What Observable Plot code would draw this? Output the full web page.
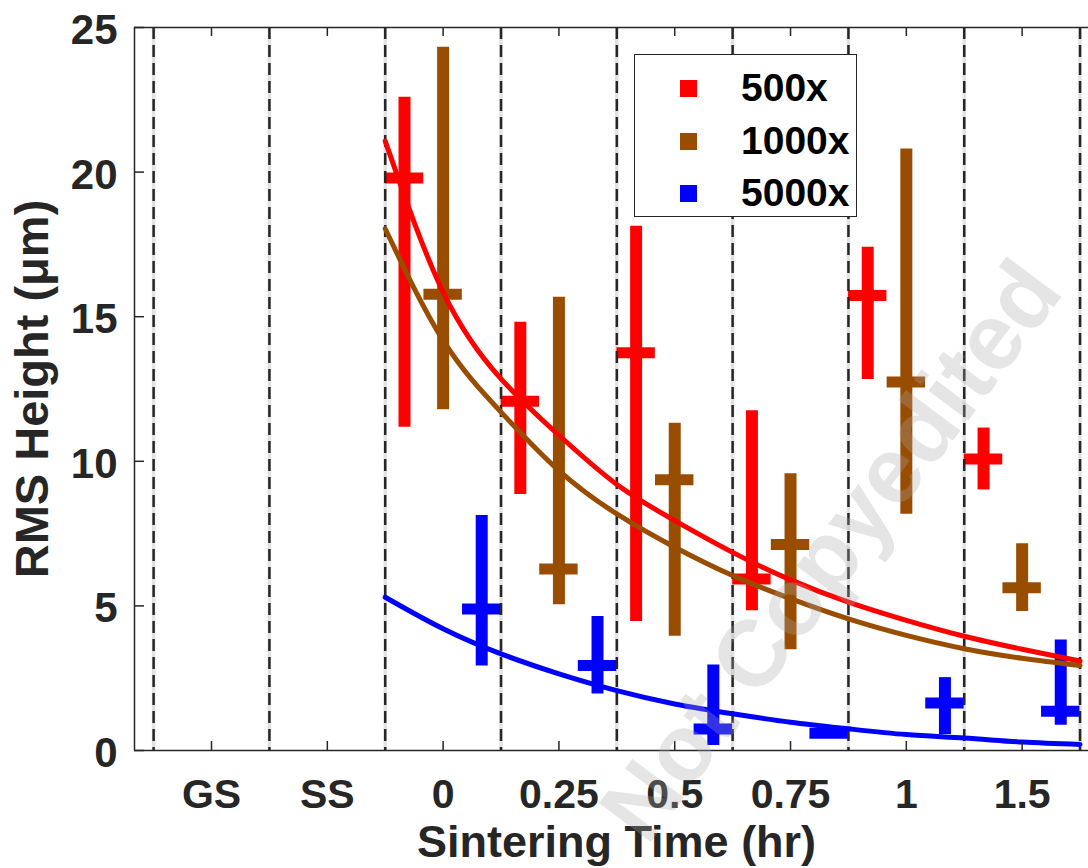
<!DOCTYPE html>
<html>
<head>
<meta charset="utf-8">
<script src="https://cdn.jsdelivr.net/npm/d3@7"></script>
<script src="https://cdn.jsdelivr.net/npm/@observablehq/plot@0.6"></script>
<style>
  html, body { margin: 0; padding: 0; background: white; }
  #wrap { position: relative; width: 1088px; height: 868px; overflow: hidden; font-family: "Liberation Sans", Arial, sans-serif; }
  #legend { position: absolute; left: 634px; top: 54px; width: 221px; height: 161px; border: 1.5px solid #262626; background: white; }
  .item { position: absolute; left: 0; height: 40px; width: 100%; }
  .sw { position: absolute; left: 45px; top: 12px; width: 17px; height: 17px; }
  .lab { position: absolute; left: 106px; top: 0; line-height: 40px; font-size: 39px; font-weight: bold; color: #000; }
</style>
</head>
<body>
<div id="wrap"></div>
<script>
// ---- data ----
const categories = ["GS", "SS", "0", "0.25", "0.5", "0.75", "1", "1.5"];
const timeLabels = ["0", "0.25", "0.5", "0.75", "1", "1.5"];
const seriesNames = ["500x", "1000x", "5000x"];
const seriesColors = ["#ff0000", "#994d00", "#0000ff"];

const mean500  = [19.8, 12.08, 13.75, 5.93, 15.73, 10.08];
const low500   = [11.18, 8.85, 4.46, 4.83, 12.83, 9.01];
const high500  = [22.59, 14.81, 18.13, 11.75, 17.4, 11.15];

const mean1000 = [15.78, 6.28, 9.36, 7.12, 12.74, 5.63];
const low1000  = [11.78, 5.04, 3.95, 3.48, 8.17, 4.81];
const high1000 = [24.32, 15.67, 11.32, 9.57, 20.8, 7.15];

const mean5000 = [4.89, 2.94, 0.74, 0.6, 1.64, 1.36];
const low5000  = [2.92, 1.95, 0.17, 0.56, 0.55, 0.87];
const high5000 = [8.13, 4.63, 2.96, 0.64, 2.52, 3.82];

// fitted curves, sampled along the category axis
const fitPositions = [2.5, 3, 3.5, 4, 4.5, 5, 5.5, 6, 6.5, 7, 7.5, 8, 8.5];
const fit500  = [21.07, 15.85, 12.85, 10.9, 9.2, 7.95, 6.85, 5.9, 5.13, 4.5, 3.95, 3.5, 3.09];
const fit1000 = [18.04, 14.18, 11.7, 9.68, 8.18, 7.03, 6.05, 5.25, 4.55, 3.98, 3.52, 3.19, 2.94];
const fit5000 = [5.3, 4.21, 3.34, 2.65, 2.07, 1.61, 1.27, 0.98, 0.75, 0.55, 0.43, 0.29, 0.21];

const boundaries = [0.5, 1.5, 2.5, 3.5, 4.5, 5.5, 6.5, 7.5, 8.5];
const yTicks = [0, 5, 10, 15, 20, 25];
const xTicks = [1, 2, 3, 4, 5, 6, 7, 8];

// ---- build tables ----
const means = [mean500, mean1000, mean5000];
const lows = [low500, low1000, low5000];
const highs = [high500, high1000, high5000];
const fits = [fit500, fit1000, fit5000];

const rows = seriesNames.flatMap((s, j) => timeLabels.map((t, i) => ({
  series: s,
  pos: categories.indexOf(t) + 1 + (j - 1) / 3,
  mean: means[j][i], low: lows[j][i], high: highs[j][i]
})));
const fitRows = seriesNames.flatMap((s, j) => fitPositions.map((p, i) => ({
  series: s, pos: p, value: fits[j][i]
})));

// ---- layout ----
const W = 1088, H = 868;
const mL = 134, mR = 0, mT = 27, mB = 118;
const xDomain = [0.335, 8.573];
const yDomain = [0, 25];
const pxX = (W - mL - mR) / (xDomain[1] - xDomain[0]);
const pxY = (H - mT - mB) / (yDomain[1] - yDomain[0]);
const capHalf = 19.2 / pxX;
const axisColor = "#262626";

const svg = Plot.plot({
  width: W, height: H,
  marginLeft: mL, marginRight: mR, marginTop: mT, marginBottom: mB,
  style: { fontFamily: "'Liberation Sans', Arial, sans-serif", fontWeight: "bold", color: axisColor, background: "white" },
  x: { domain: xDomain },
  y: { domain: yDomain },
  color: { domain: seriesNames, range: seriesColors },
  marks: [
    Plot.ruleX(boundaries, { stroke: "#e2e2e2", strokeWidth: 3.5 }),
    Plot.ruleX(rows, { x: "pos", y1: "low", y2: "high", stroke: "series", strokeWidth: 12 }),
    Plot.ruleY(rows, { y: "mean", x1: d => d.pos - capHalf, x2: d => d.pos + capHalf, stroke: "series", strokeWidth: 11 }),
    Plot.ruleX(boundaries, { stroke: axisColor, strokeWidth: 2.5, strokeDasharray: "12,6" }),
    Plot.line(fitRows, { x: "pos", y: "value", z: "series", stroke: "series", strokeWidth: 5, curve: "natural" }),
    // frame
    Plot.ruleY([0, 25], { stroke: axisColor, strokeWidth: 1.5 }),
    Plot.ruleX([xDomain[0]], { stroke: axisColor, strokeWidth: 1.5 }),
    // inward ticks
    Plot.ruleY(yTicks, { x1: xDomain[0], x2: xDomain[0] + 10 / pxX, stroke: axisColor, strokeWidth: 1.5 }),
    Plot.ruleX(xTicks, { y1: 25, y2: 25 - 9 / pxY, stroke: axisColor, strokeWidth: 1.5 }),
    Plot.ruleX(xTicks, { y1: 0, y2: 9 / pxY, stroke: axisColor, strokeWidth: 1.5 }),
    // axes labels
    Plot.axisY({ ticks: yTicks, tickSize: 0, tickPadding: 17, fontSize: 42, label: null, dy: 3 }),
    Plot.axisX({ ticks: xTicks, tickFormat: i => categories[i - 1], tickSize: 0, tickPadding: 28, fontSize: 41, label: null }),
    Plot.text(["RMS Height (μm)"], { frameAnchor: "left", rotate: -90, dx: -102, fontSize: 47, textAnchor: "middle", lineAnchor: "middle" }),
    Plot.text(["Sintering Time (hr)"], { frameAnchor: "bottom", dy: 75, dx: 5, fontSize: 45, textAnchor: "middle", lineAnchor: "top" })
  ]
});

const wrap = document.getElementById("wrap");
wrap.appendChild(svg);

// watermark
d3.select(svg).append("text")
  .attr("transform", "translate(830,550) rotate(-53)")
  .attr("text-anchor", "middle")
  .attr("dominant-baseline", "central")
  .attr("font-size", 94)
  .attr("font-weight", "bold")
  .attr("fill", "rgb(170,170,170)")
  .attr("fill-opacity", 0.3)
  .text("Not Copyedited");

// legend
const legend = document.createElement("div");
legend.id = "legend";
seriesNames.forEach((s, j) => {
  const item = document.createElement("div");
  item.className = "item";
  item.style.top = (13 + j * 52.5) + "px";
  const sw = document.createElement("div");
  sw.className = "sw";
  sw.style.background = seriesColors[j];
  const lab = document.createElement("div");
  lab.className = "lab";
  lab.textContent = s;
  item.appendChild(sw);
  item.appendChild(lab);
  legend.appendChild(item);
});
wrap.appendChild(legend);
</script>
</body>
</html>
